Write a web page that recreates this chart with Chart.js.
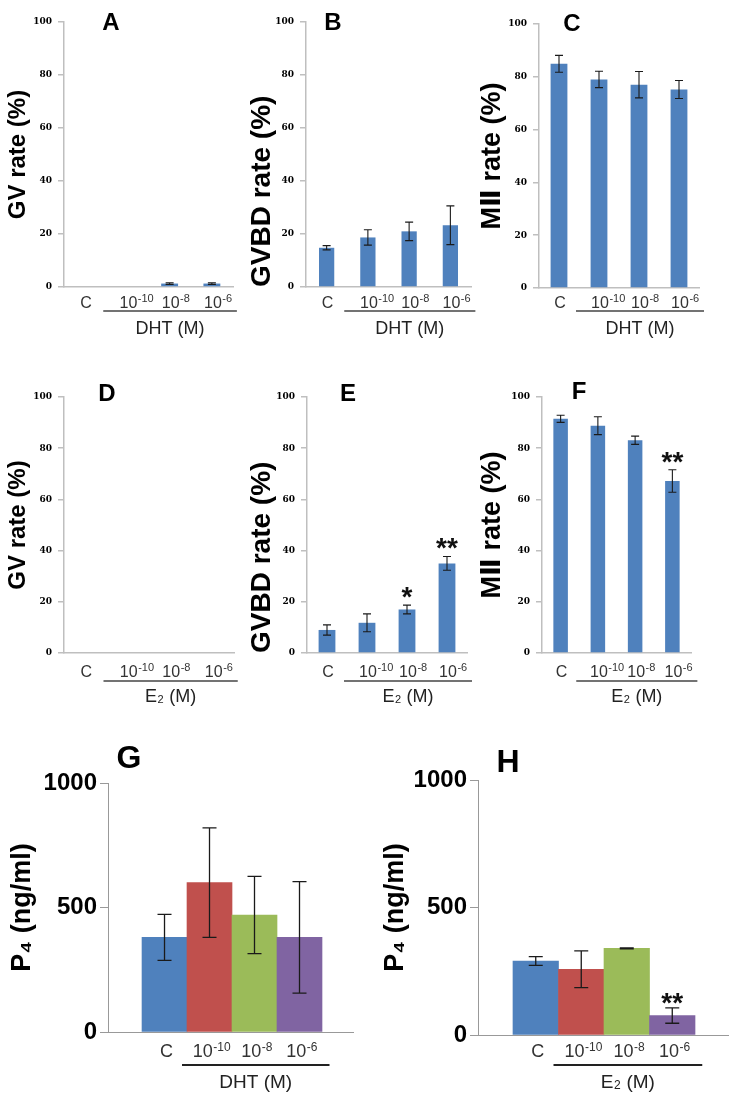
<!DOCTYPE html>
<html>
<head>
<meta charset="utf-8">
<script src="https://cdn.jsdelivr.net/npm/chart.js@4.4.1/dist/chart.umd.min.js"></script>
<style>
  body { margin: 0; background: #fff; }
  #figura { position: relative; width: 735px; height: 1096px; overflow: hidden; background: #fff; }
  #figura canvas { position: absolute; }
</style>
</head>
<body>
<div id="figura"></div>
<script>
// etiquetas del eje x (base + exponente)
const categorias = ['C', '10', '10', '10'];
const exponentes = ['', '-10', '-8', '-6'];

// DHT, fila superior
const gvDHT = [0, 0, 1.3, 1.3];
const gvDHTerr = [0, 0, 0.3, 0.3];
const gvbdDHT = [14.8, 18.7, 21.0, 23.3];
const gvbdDHTerr = [0.8, 2.9, 3.5, 7.3];
const m2DHT = [84.9, 79.0, 77.0, 75.2];
const m2DHTerr = [3.2, 3.1, 5.0, 3.4];

// E2, fila central
const gvE2 = [0, 0, 0, 0];
const gvE2err = [0, 0, 0, 0];
const gvbdE2 = [9.0, 11.8, 17.0, 35.0];
const gvbdE2err = [2.0, 3.5, 1.7, 2.7];
const m2E2 = [91.5, 88.8, 83.1, 67.2];
const m2E2err = [1.4, 3.5, 1.6, 4.4];
const sigGvbdE2 = ['', '', '*', '**'];
const sigM2E2 = ['', '', '', '**'];

// P4
const p4DHT = [380, 600, 470, 380];
const p4DHTerr = [92, 220, 155, 224];
const p4E2 = [290, 258, 340, 76];
const p4E2err = [17, 72, 2, 30];
const sigP4E2 = ['', '', '', '**'];

const ticksPorcentaje = [0, 20, 40, 60, 80, 100];
const ticksP4 = [0, 500, 1000];
const azul = '#4f81bd';
const coloresP4 = ['#4f81bd', '#c0504d', '#9bbb59', '#8064a2'];

const grupoDHT = { pre: 'DHT (M)', sub: '', post: '' };
const grupoE2 = { pre: 'E', sub: '2', post: ' (M)' };

const SANS = 'Arial, "Liberation Sans", "DejaVu Sans", sans-serif';

const anotaciones = {
    id: 'anotaciones',
    afterDatasetsDraw(chart, args, o) {
        const ctx = chart.ctx;
        const y = chart.scales.y;
        const meta = chart.getDatasetMeta(0);
        ctx.save();
        ctx.strokeStyle = '#1a1a1a';
        ctx.lineWidth = o.grosorError;
        meta.data.forEach((barra, i) => {
            const v = o.valores[i];
            const e = o.errores[i];
            if (e) {
                const y1 = y.getPixelForValue(v + e);
                const y2 = y.getPixelForValue(v - e);
                ctx.beginPath();
                ctx.moveTo(barra.x, y1); ctx.lineTo(barra.x, y2);
                ctx.moveTo(barra.x - o.tapa, y1); ctx.lineTo(barra.x + o.tapa, y1);
                ctx.moveTo(barra.x - o.tapa, y2); ctx.lineTo(barra.x + o.tapa, y2);
                ctx.stroke();
            }
            const s = o.signos ? o.signos[i] : '';
            if (s) {
                ctx.fillStyle = '#111';
                ctx.font = 'bold 28px ' + SANS;
                ctx.textAlign = 'center';
                ctx.textBaseline = 'alphabetic';
                ctx.fillText(s, barra.x, y.getPixelForValue(v + e) + o.bajaSigno);
            }
        });
        ctx.restore();
    },
    afterDraw(chart, args, o) {
        const ctx = chart.ctx;
        const x = chart.scales.x;
        const [ox, oy] = o.origen;
        const px = i => x.getPixelForValue(i);
        ctx.save();
        ctx.textBaseline = 'alphabetic';
        ctx.textAlign = 'left';

        // etiquetas de categoria con superindice
        ctx.fillStyle = '#333';
        categorias.forEach((base, i) => {
            const exp = exponentes[i];
            ctx.font = o.fuenteBase;
            const wb = ctx.measureText(base).width;
            ctx.font = o.fuenteExp;
            const we = exp ? ctx.measureText(exp).width : 0;
            const centro = px(i) + o.dx;
            const x0 = (o.centrarBase || !exp) ? centro - wb / 2 : centro - (wb + we) / 2;
            ctx.font = o.fuenteBase;
            ctx.fillText(base, x0, o.yEtiqueta - oy);
            if (exp) {
                ctx.font = o.fuenteExp;
                ctx.fillText(exp, x0 + wb + 0.5, o.yEtiqueta - oy - o.subeExp);
            }
        });

        // linea bajo las concentraciones
        const x1 = (px(0) + px(1)) / 2 + o.inicioLinea;
        const x2 = px(categorias.length - 1) + o.finLinea;
        ctx.strokeStyle = o.colorLinea;
        ctx.lineWidth = o.grosorLinea;
        ctx.beginPath();
        ctx.moveTo(x1, o.yLinea - oy);
        ctx.lineTo(x2, o.yLinea - oy);
        ctx.stroke();

        // nombre del tratamiento
        const g = o.grupo;
        ctx.fillStyle = '#222';
        ctx.font = o.fuenteGrupo;
        const wPre = ctx.measureText(g.pre).width;
        const wPost = ctx.measureText(g.post).width;
        ctx.font = o.fuenteSub;
        const wSub = g.sub ? ctx.measureText(g.sub).width + 1 : 0;
        let gx = (x1 + x2) / 2 - (wPre + wSub + wPost) / 2;
        ctx.font = o.fuenteGrupo;
        ctx.fillText(g.pre, gx, o.yGrupo - oy);
        gx += wPre;
        if (g.sub) {
            ctx.font = o.fuenteSub;
            ctx.fillText(g.sub, gx + 0.5, o.yGrupo - oy + 1);
            gx += wSub;
        }
        ctx.font = o.fuenteGrupo;
        ctx.fillText(g.post, gx, o.yGrupo - oy);

        // letra del panel
        ctx.fillStyle = '#000';
        ctx.font = 'bold ' + o.tamLetra + 'px ' + SANS;
        ctx.textAlign = 'center';
        ctx.fillText(o.letra, o.posLetra[0] - ox, o.posLetra[1] - oy + o.tamLetra * 0.358);
        ctx.restore();
    }
};

function crearPanel(p) {
    const [cx, cy, cw, ch] = p.lienzo;
    const canvas = document.createElement('canvas');
    canvas.width = cw;
    canvas.height = ch;
    canvas.style.left = cx + 'px';
    canvas.style.top = cy + 'px';
    canvas.style.width = cw + 'px';
    canvas.style.height = ch + 'px';
    document.getElementById('figura').appendChild(canvas);

    const grande = !!p.rangoX;
    const datos = grande ? p.valores.map((v, i) => ({ x: i, y: v })) : p.valores;
    const gris = grande ? '#999' : '#bfbfbf';
    const grosorEje = grande ? 1 : 1.5;

    const ejeX = grande ? {
        type: 'linear',
        min: p.rangoX[0],
        max: p.rangoX[1],
        offset: false,
        afterBuildTicks: s => { s.ticks = categorias.map((c, i) => ({ value: i })); }
    } : { type: 'category', offset: true };
    Object.assign(ejeX, {
        grid: { display: false },
        ticks: { display: false },
        border: { display: true, color: gris, width: grosorEje },
        afterFit: s => { s.height = 0; }
    });

    return new Chart(canvas, {
        type: 'bar',
        data: {
            labels: categorias,
            datasets: [{
                data: datos,
                backgroundColor: p.colores,
                borderWidth: 0,
                barPercentage: p.anchoBarra,
                categoryPercentage: 1
            }]
        },
        options: {
            responsive: false,
            animation: false,
            layout: {
                padding: {
                    left: 0,
                    top: p.area[1] - cy,
                    right: cx + cw - p.area[2],
                    bottom: cy + ch - p.area[3]
                }
            },
            scales: {
                x: ejeX,
                y: {
                    min: 0,
                    max: p.ticks[p.ticks.length - 1],
                    afterBuildTicks: s => { s.ticks = p.ticks.map(v => ({ value: v })); },
                    afterFit: s => { s.width = p.area[0] - cx; },
                    grid: {
                        drawOnChartArea: false,
                        drawTicks: true,
                        tickLength: grande ? 8 : 6,
                        color: gris,
                        lineWidth: grosorEje
                    },
                    border: { display: true, color: gris, width: grosorEje },
                    ticks: {
                        color: '#000',
                        padding: grande ? 3 : 6,
                        callback: v => String(v),
                        font: grande
                            ? { family: SANS, size: 24, weight: 'bold' }
                            : { family: '"DejaVu Serif", serif', size: 9, weight: 'bold' }
                    },
                    title: {
                        display: true,
                        text: p.titulo,
                        color: '#000',
                        align: p.alineaTitulo || 'center',
                        padding: { top: p.margenTitulo, bottom: 0 },
                        font: { family: SANS, size: p.tamTitulo, weight: 'bold' }
                    }
                }
            },
            plugins: {
                legend: { display: false },
                tooltip: { enabled: false },
                anotaciones: Object.assign({
                    origen: [cx, cy],
                    valores: p.valores,
                    errores: p.errores,
                    signos: p.signos,
                    grupo: p.grupo,
                    letra: p.letra,
                    posLetra: p.posLetra,
                    tamLetra: grande ? 32 : 24,
                    grosorError: grande ? 1.3 : 1.1,
                    tapa: grande ? 7 : 4,
                    bajaSigno: grande ? 4 : 1,
                    dx: grande ? 2 : 1,
                    centrarBase: !grande,
                    fuenteBase: (grande ? 18 : 16) + 'px ' + SANS,
                    fuenteExp: (grande ? 12 : 11) + 'px ' + SANS,
                    subeExp: 6,
                    inicioLinea: grande ? -5 : -3,
                    finLinea: grande ? 30 : 25,
                    colorLinea: grande ? '#222' : '#444',
                    grosorLinea: grande ? 2 : 1.5,
                    fuenteGrupo: (grande ? 19 : 18) + 'px ' + SANS,
                    fuenteSub: (grande ? 12 : 11) + 'px ' + SANS
                }, p.filas)
            }
        },
        plugins: [anotaciones]
    });
}

const filaArriba = { yEtiqueta: 308, yLinea: 311, yGrupo: 334 };
const filaMedio = { yEtiqueta: 677, yLinea: 681, yGrupo: 702 };
const filaAbajo = { yEtiqueta: 1057, yLinea: 1065, yGrupo: 1088 };

const paneles = [
    { letra: 'A', posLetra: [111, 21], lienzo: [0, 0, 245, 345], area: [64, 22, 233, 287],
      valores: gvDHT, errores: gvDHTerr, colores: azul, anchoBarra: 0.4, ticks: ticksPorcentaje,
      titulo: 'GV rate (%)', tamTitulo: 24, margenTitulo: 4, grupo: grupoDHT, filas: filaArriba },
    { letra: 'B', posLetra: [333, 21], lienzo: [245, 0, 245, 345], area: [306, 22, 471, 287],
      valores: gvbdDHT, errores: gvbdDHTerr, colores: azul, anchoBarra: 0.37, ticks: ticksPorcentaje,
      titulo: 'GVBD rate (%)', tamTitulo: 28, margenTitulo: 0, alineaTitulo: 'start', grupo: grupoDHT, filas: filaArriba },
    { letra: 'C', posLetra: [572, 22], lienzo: [466, 0, 269, 345], area: [539, 24, 699, 288],
      valores: m2DHT, errores: m2DHTerr, colores: azul, anchoBarra: 0.42, ticks: ticksPorcentaje,
      titulo: 'MⅡ rate (%)', tamTitulo: 27, margenTitulo: 10, grupo: grupoDHT, filas: filaArriba },
    { letra: 'D', posLetra: [107, 392], lienzo: [0, 355, 245, 360], area: [64, 397, 234, 653],
      valores: gvE2, errores: gvE2err, colores: azul, anchoBarra: 0.4, ticks: ticksPorcentaje,
      titulo: 'GV rate (%)', tamTitulo: 24, margenTitulo: 4, grupo: grupoE2, filas: filaMedio },
    { letra: 'E', posLetra: [348, 392], lienzo: [245, 355, 245, 360], area: [307, 397, 467, 653],
      valores: gvbdE2, errores: gvbdE2err, signos: sigGvbdE2, colores: azul, anchoBarra: 0.42, ticks: ticksPorcentaje,
      titulo: 'GVBD rate (%)', tamTitulo: 28, margenTitulo: 0, alineaTitulo: 'start', grupo: grupoE2, filas: filaMedio },
    { letra: 'F', posLetra: [579, 390], lienzo: [466, 355, 269, 360], area: [542, 397, 691, 653],
      valores: m2E2, errores: m2E2err, signos: sigM2E2, colores: azul, anchoBarra: 0.39, ticks: ticksPorcentaje,
      titulo: 'MⅡ rate (%)', tamTitulo: 27, margenTitulo: 10, grupo: grupoE2, filas: filaMedio },
    { letra: 'G', posLetra: [129, 757], lienzo: [0, 725, 370, 371], area: [108, 783, 353, 1032],
      valores: p4DHT, errores: p4DHTerr, colores: coloresP4, anchoBarra: 1, ticks: ticksP4, rangoX: [-1.256, 4.189],
      titulo: 'P₄ (ng/ml)', tamTitulo: 27, margenTitulo: 6, grupo: grupoDHT, filas: filaAbajo },
    { letra: 'H', posLetra: [508, 761], lienzo: [370, 725, 365, 371], area: [478, 780, 728, 1035],
      valores: p4E2, errores: p4E2err, signos: sigP4E2, colores: coloresP4, anchoBarra: 1, ticks: ticksP4, rangoX: [-1.269, 4.225],
      titulo: 'P₄ (ng/ml)', tamTitulo: 27, margenTitulo: 9, grupo: grupoE2, filas: filaAbajo }
];

paneles.forEach(crearPanel);
</script>
</body>
</html>
